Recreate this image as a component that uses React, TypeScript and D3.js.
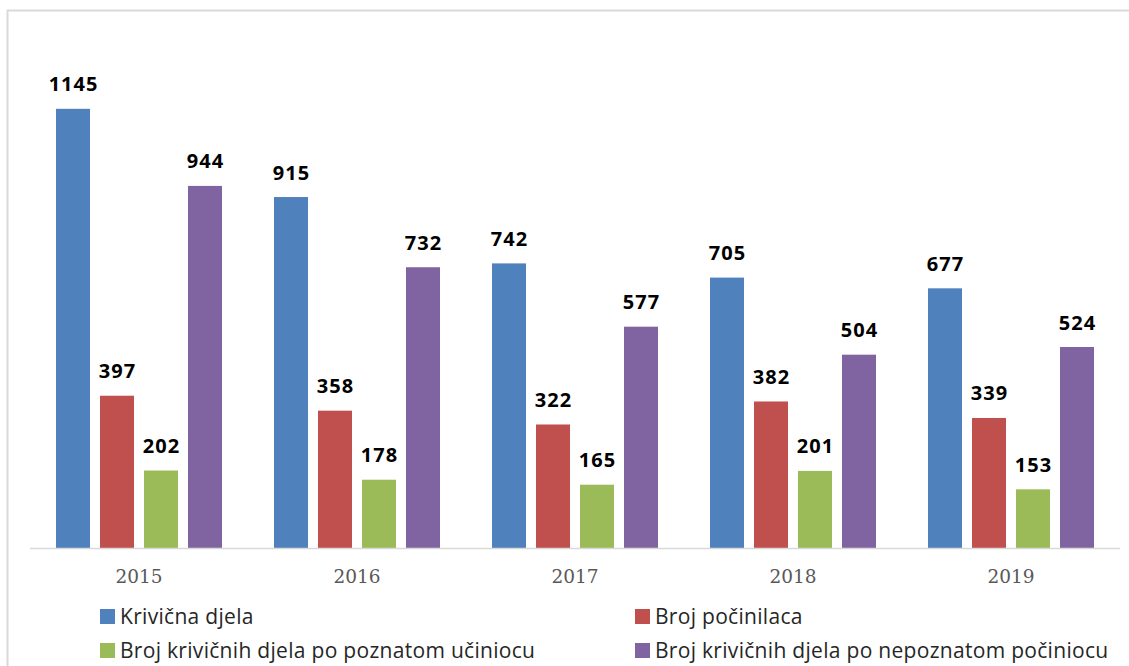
import React from "react";
import * as d3 from "d3";

const years = ["2015", "2016", "2017", "2018", "2019"];
const seriesNames = [
  "Krivična djela",
  "Broj počinilaca",
  "Broj krivičnih djela po poznatom učiniocu",
  "Broj krivičnih djela po nepoznatom počiniocu",
];
const krivicnaDjela = [1145, 915, 742, 705, 677];
const brojPocinilaca = [397, 358, 322, 382, 339];
const poznatom = [202, 178, 165, 201, 153];
const nepoznatom = [944, 732, 577, 504, 524];
const colors = ["#4F81BD", "#C0504D", "#9BBB59", "#8064A2"];

const seriesValues = [krivicnaDjela, brojPocinilaca, poznatom, nepoznatom];

const W = 1129;
const H = 666;

export default function App() {
  const x0 = d3.scaleBand<string>().domain(years).range([30, 1120]).paddingInner(0).paddingOuter(0);
  const bw = x0.bandwidth();
  const x1 = d3
    .scaleBand<string>()
    .domain(seriesNames)
    .range([bw / 2 - 88, bw / 2 + 88])
    .paddingInner(0.227)
    .paddingOuter(0.1135);
  const y = d3.scaleLinear().domain([0, 1400]).range([548, 11]);

  const legendItems = [
    { name: seriesNames[0], color: colors[0], x: 100, y: 617 },
    { name: seriesNames[1], color: colors[1], x: 635, y: 617 },
    { name: seriesNames[2], color: colors[2], x: 100, y: 651 },
    { name: seriesNames[3], color: colors[3], x: 635, y: 651 },
  ];

  return (
    <svg
      width={W}
      height={H}
      style={{ position: "absolute", left: 0, top: 0, background: "#fff" }}
    >
      <rect x={0} y={0} width={W} height={H} fill="#fff" />
      {/* frame */}
      <path d={`M7.5,${H} V10.5 H${W}`} fill="none" stroke="#d9d9d9" strokeWidth={2} />
      {/* bars */}
      {years.map((yr, i) => (
        <g key={yr} transform={`translate(${x0(yr)},0)`}>
          {seriesNames.map((s, j) => {
            const v = seriesValues[j][i];
            const bx = x1(s)!;
            return (
              <g key={s}>
                <rect x={bx} y={y(v)} width={x1.bandwidth()} height={y(0) - y(v)} fill={colors[j]} />
                <text
                  x={bx + x1.bandwidth() / 2 + 0.5}
                  y={y(v) - 17.5}
                  textAnchor="middle"
                  fontFamily="'Open Sans', sans-serif"
                  fontWeight="bold"
                  fontSize={20}
                  letterSpacing={1}
                  fill="#000"
                >
                  {v}
                </text>
              </g>
            );
          })}
        </g>
      ))}
      {/* axis */}
      <line x1={30} x2={1120} y1={548.5} y2={548.5} stroke="#d9d9d9" strokeWidth={1.5} />
      {years.map((yr) => (
        <text
          key={yr}
          x={x0(yr)! + bw / 2}
          y={583}
          textAnchor="middle"
          fontFamily="'DejaVu Serif', serif"
          fontSize={18.5}
          fill="#595959"
        >
          {yr}
        </text>
      ))}
      {/* legend */}
      {legendItems.map((it) => (
        <g key={it.name}>
          <rect x={it.x} y={it.y - 8} width={15} height={15} fill={it.color} />
          <text
            x={it.x + 20}
            y={it.y + 7}
            fontFamily="'Open Sans', sans-serif"
            fontSize={21}
            letterSpacing={0.3}
            fill="#262626"
          >
            {it.name}
          </text>
        </g>
      ))}
    </svg>
  );
}
